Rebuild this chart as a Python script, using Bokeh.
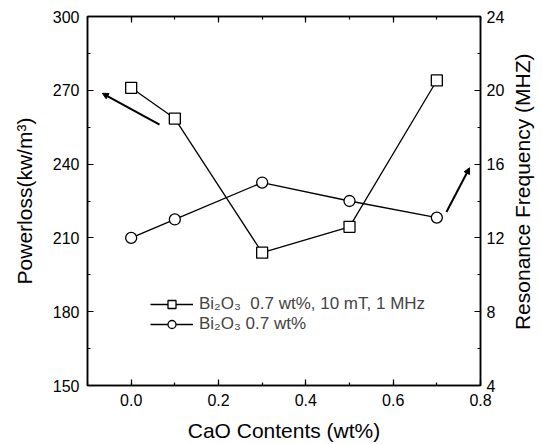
import math
from bokeh.plotting import figure
from bokeh.layouts import row
from bokeh.models import (Range1d, LinearAxis, SingleIntervalTicker, Legend, LegendItem,
                          Arrow, NormalHead, NumeralTickFormatter, CustomLabelingPolicy)
from bokeh.core.properties import value
from bokeh.embed import file_html
from bokeh.resources import INLINE

# ---- data ----
cao = [0.0, 0.1, 0.3, 0.5, 0.7]
powerloss = [271.0, 258.5, 204.0, 214.5, 274.0]
freq = [12.0, 13.0, 15.0, 14.0, 13.1]
label_power = "Bi₂O₃  0.7 wt%, 10 mT, 1 MHz"
label_freq = "Bi₂O₃ 0.7 wt%"
xlabel = "CaO Contents (wt%)"
ylabel_left = "Powerloss(kw/m³)"
ylabel_right = "Resonance Frequency (MHZ)"
# arrow annotations (tail -> head), in data units
arrow_left = [0.065, 256.0, -0.066, 268.8]
arrow_right = [0.722, 13.4, 0.775, 15.8]

FONT = "Liberation Sans"

p = figure(width=508, height=444, output_backend="svg", toolbar_location=None,
           x_range=Range1d(-0.1, 0.8), y_range=Range1d(150, 300),
           min_border_left=87, min_border_right=28, min_border_top=16, min_border_bottom=59)
p.xgrid.visible = False
p.ygrid.visible = False
p.outline_line_color = "black"
p.outline_line_width = 1.5
p.extra_y_ranges = {"right": Range1d(4, 24)}

def style(ax, size="16px"):
    ax.major_tick_in = 6
    ax.major_tick_out = 0
    ax.minor_tick_in = 3
    ax.minor_tick_out = 0
    ax.axis_line_width = 1.5
    ax.major_tick_line_width = 1.2
    ax.minor_tick_line_width = 1.2
    ax.major_label_text_font = FONT
    ax.major_label_text_font_size = size
    ax.major_label_text_color = "black"
    ax.axis_label_text_font = FONT
    ax.axis_label_text_font_size = "21px"
    ax.axis_label_text_font_style = "normal"
    ax.axis_label_text_color = "black"

# bottom
xa = p.xaxis[0]
xa.ticker = SingleIntervalTicker(interval=0.2, num_minor_ticks=2)
xa.formatter = NumeralTickFormatter(format="0.0")
xa.axis_label = xlabel
style(xa)
xa.major_label_standoff = 8
xa.axis_label_standoff = 10

# left
ya = p.yaxis[0]
ya.ticker = SingleIntervalTicker(interval=30, num_minor_ticks=2)
ya.axis_label = ylabel_left
style(ya)
ya.major_label_standoff = 8
ya.axis_label_standoff = 14

# right (ticks + numbers)
ra = LinearAxis(y_range_name="right", ticker=SingleIntervalTicker(interval=4, num_minor_ticks=2))
style(ra)
ra.major_label_standoff = 6
p.add_layout(ra, "right")

# top (ticks only, no labels)
ta = LinearAxis(ticker=SingleIntervalTicker(interval=0.2, num_minor_ticks=2),
                major_label_policy=CustomLabelingPolicy(code="""
                    for (const i of [...indices]) { indices.unset(i) }
                    return indices
                """))
style(ta)
ta.major_label_standoff = 0
p.add_layout(ta, "above")

# series
l1 = p.line(cao, powerloss, line_color="black", line_width=1.3)
m1 = p.scatter(cao, powerloss, marker="square", size=11, fill_color="white",
               line_color="black", line_width=1.3)
l2 = p.line(cao, freq, line_color="black", line_width=1.3, y_range_name="right")
m2 = p.scatter(cao, freq, marker="circle", size=11, fill_color="white",
               line_color="black", line_width=1.3, y_range_name="right")

# arrows
p.add_layout(Arrow(x_start=arrow_left[0], y_start=arrow_left[1], x_end=arrow_left[2], y_end=arrow_left[3],
                   line_width=2, line_color="black",
                   end=NormalHead(size=6, fill_color="black", line_color="black")))
p.add_layout(Arrow(x_start=arrow_right[0], y_start=arrow_right[1], x_end=arrow_right[2], y_end=arrow_right[3],
                   y_range_name="right", line_width=2, line_color="black",
                   end=NormalHead(size=6, fill_color="black", line_color="black")))

legend = Legend(items=[LegendItem(label=label_power, renderers=[l1, m1]),
                       LegendItem(label=label_freq, renderers=[l2, m2])],
                location=(63, 51), padding=0, margin=0, spacing=0,
                glyph_width=43, glyph_height=20, label_height=20, label_standoff=6,
                label_text_font=FONT, label_text_font_size="17px",
                border_line_color=None, background_fill_alpha=0)
p.add_layout(legend)

# narrow strip holding the right-hand axis title, reading bottom-to-top as in the reference
p2 = figure(width=34, height=444, output_backend="svg", toolbar_location=None,
            x_range=Range1d(0, 1), y_range=Range1d(0, 1),
            min_border_left=0, min_border_right=0, min_border_top=0, min_border_bottom=0)
p2.axis.visible = False
p2.grid.visible = False
p2.outline_line_color = None
p2.text(x=[0.42], y=[0.525], text=[ylabel_right], angle=math.pi / 2,
        text_font=value(FONT), text_font_size="21px", text_color="black",
        text_align="center", text_baseline="middle")

layout = row(p, p2, spacing=0)
open("out.html", "w").write(file_html(layout, INLINE))
